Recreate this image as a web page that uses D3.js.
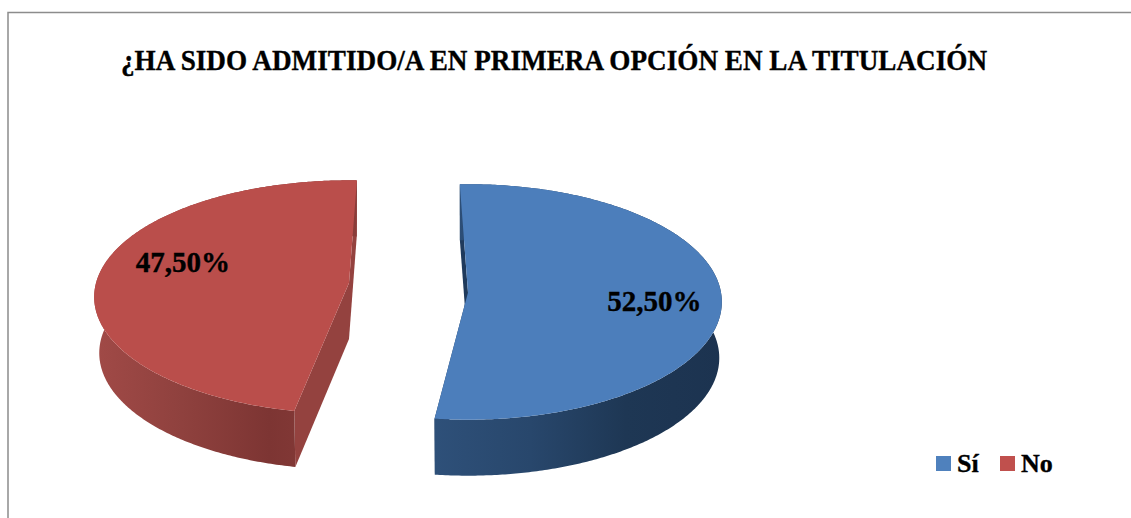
<!DOCTYPE html>
<html lang="es">
<head>
<meta charset="utf-8">
<script src="https://d3js.org/d3.v7.min.js"></script>
<style>
  html, body { margin: 0; padding: 0; background: #fff; }
  svg { display: block; }
  text { font-family: "Liberation Serif", serif; font-weight: bold; fill: #000; stroke: #000; stroke-width: 0.35px; }
</style>
</head>
<body>
<script>
// Data
const chartTitle = '¿HA SIDO ADMITIDO/A EN PRIMERA OPCIÓN EN LA TITULACIÓN';
const categories = ['Sí', 'No'];
const shares = [52.5, 47.5];
const shareLabels = ['52,50%', '47,50%'];

// Set Dimensions
const width = 1131; const height = 518;

// how each exploded slice sits on the page
const rx = 253, depth = 56;
const ry = [117, 115];
const persp = [0.08, 0.12];
const bottomShrink = [0.99, 0.98];
const centers = [[468, 292.5], [349, 283]];
const turn = [-0.015, 0.055];
const topColors = ['#4c7ebb', '#ba4e4b'];
const cutColors = ['#1f3a5c', '#94423f'];
const wallStops = [
    ['#2e5079', '#28476c', '#1e3754', '#1c3350'],
    ['#a14a47', '#8f413e', '#7d3533', '#8a3d3a']
];
const legendColors = ['#4f81bd', '#c0504d'];
const labelNudge = [[0, 5], [0, -13]];
const labelRadius = [0.735, 0.667];

const svg = d3.select('body').append('svg')
    .attr('width', width)
    .attr('height', height);

// frame: only left and top are inside the crop
svg.append('path')
    .attr('d', `M8,${height}V12.5H${width}`)
    .attr('fill', 'none')
    .attr('stroke', '#8c8c8c')
    .attr('stroke-width', 1.5);

svg.append('text')
    .attr('x', 121)
    .attr('y', 70)
    .attr('font-size', 29)
    .attr('textLength', 866)
    .attr('lengthAdjust', 'spacingAndGlyphs')
    .text(chartTitle);

// Pie angles come from d3, clockwise from the top of the pie
const pie = d3.pie().sort(null).startAngle(-0.02).endAngle(2 * Math.PI - 0.02);
const arcs = pie(shares);

// polar -> screen, the near side is drawn bigger
function project(i, a, r, low) {
    const c = centers[i];
    const X = r * Math.sin(a), Y = -r * Math.cos(a);
    const s = 1 / (1 - persp[i] * Y);
    const k = low ? bottomShrink[i] : 1;
    return [c[0] + rx * X * s * k, c[1] + ry[i] * Y * s + (low ? depth : 0)];
}

const line = d3.line();
const defs = svg.append('defs');

arcs.forEach(function(d, i) {
    const a0 = d.startAngle + turn[i], a1 = d.endAngle + turn[i];
    const angles = d3.range(a0, a1, 0.01).concat([a1]);
    const rim = angles.map(a => project(i, a, 1, false));
    const rimLow = angles.map(a => project(i, a, 1, true));
    const g = svg.append('g');

    const gradId = 'wall' + i;
    const grad = defs.append('linearGradient')
        .attr('id', gradId)
        .attr('gradientUnits', 'userSpaceOnUse')
        .attr('x1', d3.min(rim, p => p[0]))
        .attr('x2', d3.max(rim, p => p[0]))
        .attr('y1', 0).attr('y2', 0);
    wallStops[i].forEach((col, j) => {
        grad.append('stop').attr('offset', j / (wallStops[i].length - 1)).attr('stop-color', col);
    });

    // cut faces first
    [a0, a1].forEach(a => {
        g.append('path')
            .attr('d', line([project(i, a, 1, false), project(i, a, 1, true), project(i, a, 0, true), project(i, a, 0, false)]) + 'Z')
            .attr('fill', cutColors[i]);
    });

    // outer wall
    g.append('path')
        .attr('d', line(rim.concat(rimLow.slice().reverse())) + 'Z')
        .attr('fill', `url(#${gradId})`);

    // top face
    g.append('path')
        .attr('d', line([project(i, 0, 0, false)].concat(rim)) + 'Z')
        .attr('fill', topColors[i]);

    // value label
    const mid = (a0 + a1) / 2;
    const p = project(i, mid, labelRadius[i], false);
    g.append('text')
        .attr('x', p[0] + labelNudge[i][0])
        .attr('y', p[1] + labelNudge[i][1])
        .attr('dy', '0.35em')
        .attr('text-anchor', 'middle')
        .attr('font-size', 29)
        .text(shareLabels[i]);
});

// legend
const legendX = d3.scaleOrdinal().domain(categories).range([936, 1000]);
categories.forEach(function(name, i) {
    svg.append('rect')
        .attr('x', legendX(name)).attr('y', 456)
        .attr('width', 15).attr('height', 15)
        .attr('fill', legendColors[i]);
    svg.append('text')
        .attr('x', legendX(name) + 21)
        .attr('y', 472)
        .attr('font-size', 26)
        .text(name);
});
</script>
</body>
</html>
